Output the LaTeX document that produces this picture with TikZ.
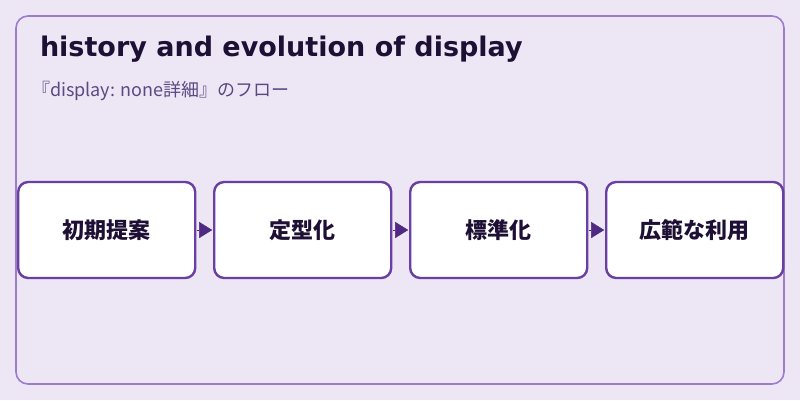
\documentclass[tikz,border=0pt]{standalone}
\usepackage{fontspec}
\setmainfont{DejaVu Sans}
\newfontfamily\cjk{Noto Sans CJK JP}
\usetikzlibrary{arrows.meta,positioning}
\definecolor{panelbg}{HTML}{EDE6F5}
\definecolor{panelline}{HTML}{9E7BCB}
\definecolor{boxline}{HTML}{6A3FA3}
\definecolor{arrowfill}{HTML}{4F2A80}
\definecolor{titletext}{HTML}{1E1035}
\definecolor{subtext}{HTML}{5A4A82}

\begin{document}
\begin{tikzpicture}[
  x=1pt, y=-1pt,
  every node/.style={inner sep=0pt, outer sep=0pt},
  stepbox/.style={
    rectangle,
    rounded corners=10pt,
    fill=white,
    draw=boxline, line width=2.4pt,
    minimum width=177pt,
    minimum height=96pt,
    text centered,
    text=titletext,
    font=\cjk\fontsize{22}{26}\selectfont\bfseries
  },
  flow/.style={draw=arrowfill, line width=0.4pt, shorten <=1.5pt, shorten >=2pt,
    -{Triangle[length=13pt,width=16pt,fill=arrowfill]}},
  node distance=19pt
  ]
\useasboundingbox (0,0) rectangle (800,400);
\fill[panelbg] (0,0) rectangle (800,400);
\draw[panelline, line width=1.6pt, rounded corners=12pt] (16,16) rectangle (784,384);
% title and subtitle
\node[anchor=base west, text=titletext, font=\fontsize{27}{32}\selectfont\bfseries] (title) at (40,56) {history and evolution of display};
\node[anchor=base west, text=subtext, font=\cjk\fontsize{18}{21}\selectfont] (sub) at (32,96) {『display: none詳細』のフロー};
% steps
\node[stepbox] (s1) at (106.7,230) {初期提案};
\node[stepbox, right=of s1] (s2) {定型化};
\node[stepbox, right=of s2] (s3) {標準化};
\node[stepbox, right=of s3] (s4) {広範な利用};
\foreach \a/\b in {s1/s2, s2/s3, s3/s4}
  \draw[flow] (\a) -- (\b);
\end{tikzpicture}
\end{document}
